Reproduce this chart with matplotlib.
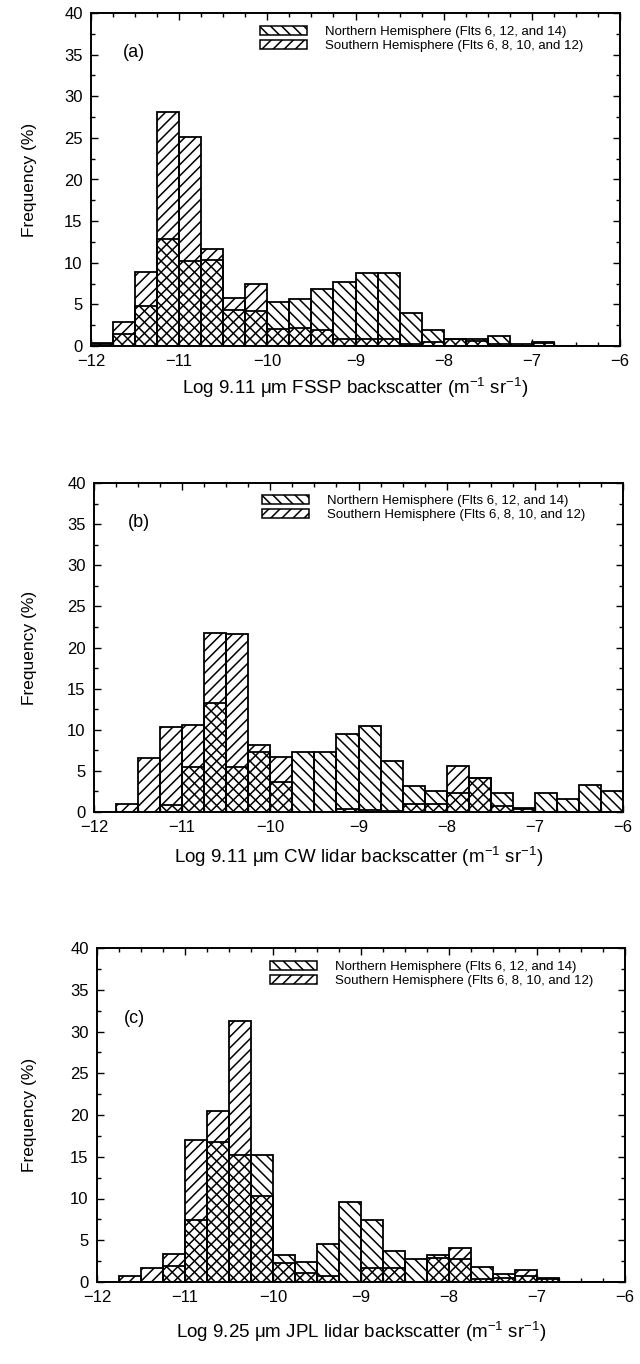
import numpy as np
import matplotlib
matplotlib.use('Agg')
import matplotlib.pyplot as plt
from matplotlib.patches import Patch
from matplotlib.ticker import MultipleLocator, FuncFormatter

plt.rcParams['font.family'] = ['Liberation Sans', 'DejaVu Sans']
plt.rcParams['mathtext.fontset'] = 'custom'
plt.rcParams['mathtext.rm'] = 'Liberation Sans'
plt.rcParams['hatch.linewidth'] = 1.1

#left edges of the 0.25 wide bins
bin_left = np.arange(-12.0, -6.0, 0.25)

#Panel (a) - FSSP
north_a = [0.3, 1.5, 4.8, 12.9, 10.2, 10.3, 4.3, 4.2, 5.3, 5.6, 6.8, 7.7,
           8.8, 8.8, 4.0, 1.9, 0.9, 0.8, 1.2, 0.3, 0.5, 0, 0, 0]
south_a = [0.4, 2.9, 8.9, 28.1, 25.1, 11.6, 5.8, 7.4, 2.1, 2.2, 1.9, 0.9,
           0.8, 0.8, 0.3, 0.5, 0.8, 0.6, 0.2, 0.0, 0.4, 0, 0, 0]

#Panel (b) - CW lidar
north_b = [0, 0, 0, 0.9, 5.5, 13.3, 5.5, 7.3, 3.6, 7.3, 7.3, 9.5,
           10.4, 6.2, 3.2, 2.5, 2.3, 4.1, 2.3, 0.5, 2.3, 1.6, 3.3, 2.6]
south_b = [0, 1.0, 6.6, 10.3, 10.6, 21.8, 21.6, 8.2, 6.7, 0, 0, 0.4,
           0.3, 0.1, 1.0, 1.0, 5.6, 4.1, 0.7, 0.4, 0, 0, 0, 0]

#Panel (c) - JPL lidar
north_c = [0, 0, 0, 1.9, 7.4, 16.8, 15.2, 15.2, 3.2, 2.4, 4.6, 9.6,
           7.4, 3.7, 2.8, 3.2, 2.8, 1.8, 1.0, 0.7, 0.5, 0, 0, 0]
south_c = [0, 0.7, 1.7, 3.4, 17.0, 20.5, 31.3, 10.3, 2.3, 1.1, 0.7, 0,
           1.7, 1.7, 0, 2.9, 4.1, 0.3, 0.5, 1.4, 0.3, 0, 0, 0]

panel_tags = ['(a)', '(b)', '(c)']
xlabels = ['Log 9.11 \u03bcm FSSP backscatter (m$^{-1}$ sr$^{-1}$)',
           'Log 9.11 \u03bcm CW lidar backscatter (m$^{-1}$ sr$^{-1}$)',
           'Log 9.25 \u03bcm JPL lidar backscatter (m$^{-1}$ sr$^{-1}$)']
north_label = 'Northern Hemisphere (Flts 6, 12, and 14)'
south_label = 'Southern Hemisphere (Flts 6, 8, 10, and 12)'

W, H = 640, 1364
fig = plt.figure(figsize=(W / 100, H / 100), dpi=100)

#axes boxes in pixels: left, right, top, bottom
boxes = [(91, 620, 13, 346), (94, 623, 483, 812), (97, 625, 948, 1282)]
tag_pos = [(0.06, 0.88), (0.064, 0.88), (0.05, 0.79)]
leg_pos = [(0.32, 0.962), (0.318, 0.964), (0.328, 0.962)]
xlab_off = [29, 32, 37]   #px from axes bottom to top of x label

data = [(north_a, south_a), (north_b, south_b), (north_c, south_c)]

def minus_fmt(v, pos):
    return ('%d' % v).replace('-', '\u2212')

for i, (north, south) in enumerate(data):
    l, r, t, b = boxes[i]
    ax = fig.add_axes([l / W, 1 - b / H, (r - l) / W, (b - t) / H])

    #draw both histograms see-through so the overlap comes out cross-hatched
    ax.bar(bin_left, north, width=0.25, align='edge', facecolor='none',
           edgecolor='black', hatch='\\\\\\', linewidth=1.3)
    ax.bar(bin_left, south, width=0.25, align='edge', facecolor='none',
           edgecolor='black', hatch='///', linewidth=1.3)

    ax.set_xlim(-12, -6)
    ax.set_ylim(0, 40)
    ax.xaxis.set_major_locator(MultipleLocator(1))
    ax.xaxis.set_minor_locator(MultipleLocator(0.25))
    ax.yaxis.set_major_locator(MultipleLocator(5))
    ax.yaxis.set_minor_locator(MultipleLocator(2.5))
    ax.xaxis.set_major_formatter(FuncFormatter(minus_fmt))
    ax.tick_params(which='both', direction='in', top=True, right=True,
                   labelsize=12, width=1)
    ax.tick_params(axis='x', which='major', pad=6)
    ax.tick_params(axis='y', which='major', pad=6)
    ax.tick_params(which='major', length=5)
    ax.tick_params(which='minor', length=3)
    for s in ax.spines.values():
        s.set_linewidth(1.4)

    ax.set_ylabel('Frequency (%)', fontsize=12.5)
    ax.yaxis.set_label_coords((37 - l) / (r - l), 0.5)
    ax.set_xlabel(xlabels[i], fontsize=13.5)
    ax.xaxis.set_label_coords(0.5, -xlab_off[i] / (b - t))

    ax.text(tag_pos[i][0], tag_pos[i][1], panel_tags[i], transform=ax.transAxes,
            fontsize=13, va='center', ha='left')

    handles = [Patch(facecolor='none', edgecolor='black', hatch='\\\\\\', linewidth=1.1),
               Patch(facecolor='none', edgecolor='black', hatch='///', linewidth=1.1)]
    ax.legend(handles, [north_label, south_label], loc='upper left',
              bbox_to_anchor=leg_pos[i], frameon=False, fontsize=9.5,
              handlelength=3.56, handleheight=0.7, handletextpad=1.36,
              labelspacing=0.15, borderpad=0, borderaxespad=0)

fig.savefig('out.png', dpi=100)
